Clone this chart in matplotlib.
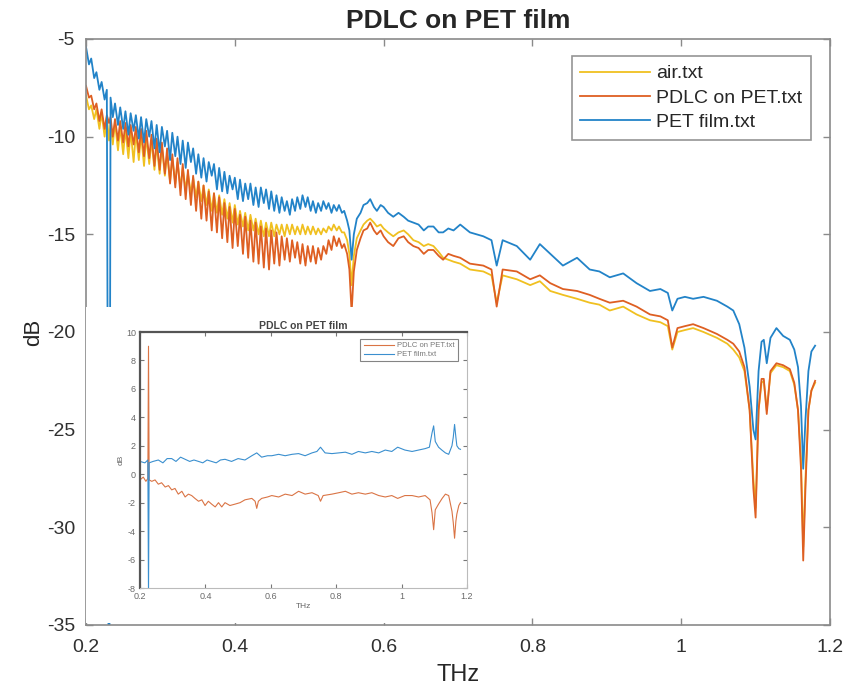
import matplotlib
matplotlib.use("Agg")
import matplotlib.pyplot as plt
from matplotlib.patches import Rectangle

plt.rcParams['font.family'] = ['Liberation Sans', 'DejaVu Sans']
plt.rcParams['axes.unicode_minus'] = False

# ---------------- main chart data ----------------
freq = [0.200, 0.204, 0.207, 0.211, 0.214, 0.218, 0.221, 0.225, 0.228, 0.231,
        0.233, 0.236, 0.239, 0.243, 0.246, 0.250, 0.253, 0.257, 0.260, 0.264,
        0.267, 0.271, 0.274, 0.278, 0.281, 0.285, 0.288, 0.292, 0.295, 0.299,
        0.302, 0.306, 0.309, 0.313, 0.316, 0.320, 0.323, 0.327, 0.330, 0.334,
        0.337, 0.341, 0.344, 0.348, 0.351, 0.355, 0.358, 0.362, 0.365, 0.369,
        0.372, 0.376, 0.379, 0.383, 0.386, 0.390, 0.393, 0.397, 0.400, 0.404,
        0.407, 0.411, 0.414, 0.418, 0.421, 0.425, 0.428, 0.432, 0.435, 0.439,
        0.442, 0.446, 0.449, 0.453, 0.456, 0.460, 0.463, 0.467, 0.470, 0.474,
        0.477, 0.481, 0.484, 0.488, 0.491, 0.495, 0.498, 0.502, 0.505, 0.509,
        0.512, 0.516, 0.519, 0.523, 0.526, 0.530, 0.533, 0.537, 0.540, 0.544,
        0.547, 0.551, 0.554, 0.557, 0.560, 0.564, 0.569, 0.573, 0.578, 0.582,
        0.587, 0.591, 0.596, 0.600, 0.606, 0.613, 0.620, 0.627, 0.633, 0.640,
        0.647, 0.654, 0.660, 0.667, 0.674, 0.680, 0.687, 0.694, 0.703, 0.716,
        0.734, 0.745, 0.752, 0.760, 0.779, 0.797, 0.810, 0.824, 0.841, 0.860,
        0.877, 0.890, 0.904, 0.922, 0.940, 0.958, 0.972, 0.982, 0.988, 0.995,
        1.005, 1.016, 1.030, 1.048, 1.062, 1.070, 1.078, 1.085, 1.092, 1.097,
        1.100, 1.104, 1.108, 1.111, 1.115, 1.120, 1.128, 1.137, 1.146, 1.152,
        1.157, 1.161, 1.164, 1.167, 1.171, 1.175, 1.180]

air_db = [-7.9, -8.6, -8.4, -9.1, -8.6, -9.6, -8.8, -10.0, -9.0, -10.2,
          -9.3, -10.4, -9.3, -10.7, -9.5, -10.9, -9.6, -11.1, -9.7, -11.3,
          -9.8, -11.2, -9.9, -11.5, -10.0, -11.4, -10.2, -11.7, -10.4, -11.9,
          -10.5, -12.0, -10.9, -12.3, -11.1, -12.4, -11.3, -12.6, -11.6, -12.7,
          -11.9, -12.9, -12.1, -13.1, -12.3, -13.3, -12.5, -13.5, -12.7, -13.8,
          -12.9, -13.9, -13.0, -14.0, -13.2, -14.2, -13.4, -14.4, -13.5, -14.5,
          -13.8, -14.6, -13.9, -14.8, -14.0, -14.8, -14.2, -15.0, -14.3, -15.1,
          -14.4, -15.1, -14.4, -15.1, -14.5, -15.0, -14.5, -15.1, -14.5, -15.0,
          -14.5, -15.0, -14.6, -15.0, -14.5, -15.0, -14.6, -15.0, -14.6, -15.0,
          -14.7, -15.0, -14.7, -14.9, -14.6, -14.8, -14.5, -14.8, -14.6, -14.9,
          -14.9, -15.3, -16.0, -17.6, -16.1, -15.2, -14.8, -14.5, -14.3, -14.2,
          -14.4, -14.6, -14.5, -14.7, -14.9, -15.1, -14.9, -14.8, -15.0, -15.3,
          -15.4, -15.6, -15.5, -15.6, -15.9, -16.2, -16.3, -16.4, -16.5, -16.8,
          -16.9, -17.1, -18.5, -17.1, -17.3, -17.6, -17.4, -17.9, -18.1, -18.3,
          -18.5, -18.6, -18.9, -18.7, -19.1, -19.4, -19.5, -19.7, -20.9, -20.0,
          -19.9, -19.8, -20.0, -20.3, -20.6, -20.9, -21.3, -22.0, -24.0, -27.5,
          -29.0, -24.0, -22.6, -22.5, -24.0, -22.1, -21.7, -21.8, -22.0, -22.7,
          -24.0, -26.5, -31.0, -27.5, -24.0, -23.0, -22.6]

pdlc_db = [-7.4, -8.0, -7.9, -8.6, -8.3, -9.2, -8.6, -9.6, -8.9, -9.3,
           -9.0, -10.0, -9.1, -10.2, -9.2, -10.3, -9.3, -10.5, -9.4, -10.4,
           -9.5, -10.8, -9.6, -11.0, -9.7, -11.1, -9.9, -11.5, -10.1, -11.7,
           -10.3, -11.9, -10.6, -12.4, -10.9, -12.6, -11.1, -13.0, -11.4, -13.2,
           -11.7, -13.5, -12.0, -13.8, -12.3, -14.2, -12.5, -14.3, -12.8, -14.8,
           -12.9, -14.9, -13.1, -15.2, -13.4, -15.4, -13.6, -15.7, -13.7, -15.6,
           -14.0, -16.0, -14.1, -16.2, -14.3, -16.4, -14.4, -16.5, -14.6, -16.7,
           -14.7, -16.8, -14.8, -16.5, -14.9, -16.6, -15.1, -16.3, -15.2, -16.4,
           -15.3, -16.2, -15.4, -16.5, -15.5, -16.6, -15.6, -16.4, -15.6, -16.5,
           -15.7, -16.3, -15.6, -16.0, -15.3, -15.8, -15.1, -15.6, -15.2, -15.7,
           -15.5, -16.0, -16.8, -19.0, -16.9, -15.8, -15.2, -14.8, -14.7, -14.4,
           -14.8, -15.0, -14.8, -15.1, -15.4, -15.6, -15.2, -15.1, -15.4, -15.6,
           -15.7, -16.0, -15.8, -15.8, -16.1, -16.3, -16.0, -16.1, -16.2, -16.5,
           -16.6, -16.8, -18.7, -16.8, -16.9, -17.3, -17.1, -17.5, -17.8, -17.9,
           -18.1, -18.3, -18.5, -18.4, -18.7, -19.1, -19.2, -19.4, -20.8, -19.8,
           -19.7, -19.6, -19.8, -20.1, -20.4, -20.6, -21.0, -21.8, -24.0, -28.0,
           -29.5, -24.0, -22.4, -22.4, -24.2, -22.0, -21.6, -21.7, -21.9, -22.6,
           -24.0, -27.0, -31.7, -28.0, -24.0, -23.0, -22.5]

pet_db = [-5.4, -6.3, -6.0, -7.0, -6.7, -7.6, -7.2, -8.1, -7.6, -45.0,
          -8.0, -9.0, -8.3, -9.4, -8.5, -9.6, -8.7, -9.9, -8.8, -9.7,
          -8.9, -10.1, -9.0, -10.3, -9.1, -10.0, -9.2, -10.6, -9.4, -10.8,
          -9.5, -10.5, -9.7, -11.2, -9.8, -11.0, -10.0, -11.4, -10.2, -11.6,
          -10.3, -11.3, -10.6, -11.9, -10.9, -12.1, -11.1, -12.3, -11.3, -12.0,
          -11.4, -12.7, -11.6, -12.8, -11.8, -12.9, -12.0, -12.7, -12.1, -13.2,
          -12.2, -13.3, -12.4, -13.2, -12.4, -13.5, -12.6, -13.6, -12.6, -13.4,
          -12.7, -13.7, -12.8, -13.8, -13.0, -13.9, -13.1, -13.8, -13.3, -14.0,
          -13.2, -13.8, -13.1, -13.7, -13.0, -13.6, -13.1, -13.8, -13.3, -13.9,
          -13.4, -13.8, -13.3, -13.7, -13.4, -13.9, -13.5, -13.8, -13.5, -13.9,
          -13.8, -14.3, -14.8, -16.3, -15.0, -14.2, -13.9, -13.5, -13.4, -13.2,
          -13.6, -13.8, -13.5, -13.6, -13.9, -14.1, -13.9, -14.1, -14.3, -14.4,
          -14.5, -14.8, -14.6, -14.6, -14.9, -14.9, -14.7, -14.8, -14.5, -14.9,
          -15.1, -15.3, -16.6, -15.3, -15.6, -16.3, -15.5, -16.0, -16.6, -16.2,
          -16.8, -16.9, -17.2, -17.0, -17.5, -17.9, -17.8, -18.0, -18.9, -18.3,
          -18.2, -18.3, -18.2, -18.4, -18.7, -18.9, -19.6, -20.8, -22.8, -25.0,
          -25.5, -22.0, -20.5, -20.4, -21.6, -20.3, -19.8, -20.2, -20.4, -20.9,
          -21.8, -23.8, -27.0, -24.5, -22.0, -21.0, -20.7]

labels = ['air.txt', 'PDLC on PET.txt', 'PET film.txt']
x_ticks = [0.2, 0.4, 0.6, 0.8, 1.0, 1.2]
x_ticklabels = ['0.2', '0.4', '0.6', '0.8', '1', '1.2']
y_ticks = [-35, -30, -25, -20, -15, -10, -5]

# ---------------- inset chart data ----------------
in_pet_f = [0.200, 0.215, 0.224, 0.226, 0.228, 0.240, 0.256, 0.270, 0.283, 0.297,
            0.310, 0.324, 0.338, 0.352, 0.365, 0.379, 0.392, 0.405, 0.419, 0.433,
            0.446, 0.460, 0.480, 0.500, 0.521, 0.542, 0.557, 0.572, 0.590, 0.603,
            0.624, 0.644, 0.665, 0.685, 0.705, 0.726, 0.741, 0.752, 0.766, 0.787,
            0.808, 0.828, 0.848, 0.868, 0.889, 0.909, 0.930, 0.950, 0.970, 0.988,
            1.010, 1.032, 1.052, 1.072, 1.085, 1.093, 1.098, 1.103, 1.113, 1.123,
            1.134, 1.144, 1.154, 1.158, 1.162, 1.166, 1.169, 1.175, 1.180]
in_pet_db = [0.9, 0.8, 1.0, -8.5, 0.8, 0.9, 1.0, 0.8, 1.1, 1.1,
             0.9, 1.2, 1.05, 0.9, 1.0, 0.9, 0.8, 1.0, 0.9, 0.8,
             1.0, 1.05, 0.9, 1.1, 1.0, 1.3, 1.5, 1.2, 1.3, 1.3,
             1.4, 1.3, 1.4, 1.45, 1.3, 1.5, 1.6, 1.9, 1.5, 1.45,
             1.5, 1.55, 1.4, 1.6, 1.5, 1.6, 1.5, 1.7, 1.6, 1.9,
             1.7, 1.6, 1.7, 1.8, 1.9, 2.9, 3.4, 2.3, 1.9, 1.7,
             1.5, 1.4, 2.0, 2.6, 3.5, 2.6, 2.0, 1.8, 1.75]

in_pdlc_f = [0.200, 0.210, 0.218, 0.224, 0.226, 0.228, 0.236, 0.246, 0.256, 0.266,
             0.277, 0.287, 0.297, 0.307, 0.317, 0.328, 0.338, 0.348, 0.358, 0.368,
             0.379, 0.389, 0.399, 0.409, 0.419, 0.430, 0.440, 0.450, 0.460, 0.475,
             0.491, 0.506, 0.521, 0.542, 0.552, 0.557, 0.562, 0.572, 0.590, 0.603,
             0.624, 0.644, 0.665, 0.685, 0.705, 0.726, 0.745, 0.752, 0.760, 0.787,
             0.808, 0.828, 0.848, 0.868, 0.889, 0.909, 0.930, 0.950, 0.970, 0.988,
             1.010, 1.032, 1.052, 1.072, 1.087, 1.093, 1.098, 1.103, 1.113, 1.124,
             1.134, 1.144, 1.154, 1.158, 1.162, 1.166, 1.169, 1.175, 1.180]
in_pdlc_db = [-0.4, -0.2, -0.5, -0.3, 9.0, -0.4, -0.5, -0.4, -0.7, -0.6,
              -0.9, -0.8, -1.1, -1.0, -1.4, -1.2, -1.6, -1.4, -1.5, -1.7,
              -1.9, -1.8, -2.2, -1.9, -2.1, -2.3, -2.0, -2.3, -2.0, -2.2,
              -2.1, -2.0, -1.8, -1.7, -1.9, -2.4, -1.9, -1.7, -1.6, -1.5,
              -1.6, -1.4, -1.5, -1.2, -1.4, -1.3, -1.5, -1.9, -1.5, -1.4,
              -1.3, -1.2, -1.4, -1.3, -1.4, -1.3, -1.5, -1.6, -1.5, -1.7,
              -1.5, -1.5, -1.6, -1.5, -1.8, -2.7, -3.9, -2.5, -2.1, -1.7,
              -1.4, -1.5, -2.6, -3.4, -4.5, -3.3, -2.8, -2.2, -2.0]
in_labels = ['PDLC on PET.txt', 'PET film.txt']
in_y_ticks = [-8, -6, -4, -2, 0, 2, 4, 6, 8, 10]

# ---------------- styling ----------------
W, H = 851, 698
c_air = '#F0C020'
c_pdlc = '#DE5F22'
c_pet = '#2283C8'
spine_c = '#8a8a8a'

fig = plt.figure(figsize=(W / 100, H / 100), dpi=100)
ax = fig.add_axes([86 / W, (H - 625) / H, (830 - 86) / W, (625 - 39) / H])

ax.plot(freq, air_db, color=c_air, lw=1.3, label=labels[0])
ax.plot(freq, pdlc_db, color=c_pdlc, lw=1.3, label=labels[1])
ax.plot(freq, pet_db, color=c_pet, lw=1.3, label=labels[2])

ax.set_xlim(0.2, 1.2)
ax.set_ylim(-35, -5)
ax.set_xticks(x_ticks)
ax.set_xticklabels(x_ticklabels)
ax.set_yticks(y_ticks)
ax.tick_params(direction='in', length=5, width=1, color=spine_c,
               labelsize=14, labelcolor='#303030', top=True, right=True,
               labeltop=False, labelright=False)
ax.tick_params(axis='x', pad=10)
ax.tick_params(axis='y', pad=8)
for s in ax.spines.values():
    s.set_color(spine_c)
    s.set_linewidth(1.2)
ax.set_xlabel('THz', fontsize=17, color='#262626', labelpad=6)
ax.set_ylabel('dB', fontsize=16, color='#262626', labelpad=2)
ax.set_title('PDLC on PET film', fontsize=19, fontweight='bold',
             color='#262626', pad=8)

leg = ax.legend(loc='upper right', bbox_to_anchor=(811 / W, 1 - 56 / H),
                bbox_transform=fig.transFigure, borderaxespad=0,
                fontsize=14, frameon=True, fancybox=False,
                handlelength=3.6, handletextpad=0.3, labelspacing=0.35,
                borderpad=0.45)
leg.get_frame().set_edgecolor('#7a7a7a')
leg.get_frame().set_linewidth(1.2)
for t in leg.get_texts():
    t.set_color('#262626')

# ---------------- inset (pasted figure) ----------------
fig.patches.append(Rectangle((86 / W, (H - 623) / H), (480 - 86) / W, (623 - 307) / H,
                             transform=fig.transFigure, facecolor='white',
                             edgecolor='none', zorder=5))

ins = fig.add_axes([140 / W, (H - 588) / H, (467 - 140) / W, (588 - 332) / H], zorder=6)
ins.plot(in_pdlc_f, in_pdlc_db, color='#DA7445', lw=0.8, label=in_labels[0])
ins.plot(in_pet_f, in_pet_db, color='#3A8FCF', lw=0.8, label=in_labels[1])
ins.set_xlim(0.2, 1.2)
ins.set_ylim(-8, 10)
ins.set_xticks(x_ticks)
ins.set_xticklabels(x_ticklabels)
ins.set_yticks(in_y_ticks)
ins.tick_params(direction='in', length=3, width=0.8, color='#777777',
                labelsize=6.5, labelcolor='#6a6a6a', top=True, right=True, pad=3)
for name, s in ins.spines.items():
    if name in ('top', 'left'):
        s.set_color('#555555')
        s.set_linewidth(1.6)
    else:
        s.set_color('#bbbbbb')
        s.set_linewidth(0.8)
ins.set_title('PDLC on PET film', fontsize=7.5, fontweight='bold',
              color='#444444', pad=2)
ins.set_xlabel('THz', fontsize=6, color='#666666', labelpad=1)
ins.set_ylabel('dB', fontsize=6, color='#666666', labelpad=1)
ileg = ins.legend(loc='upper right', bbox_to_anchor=(0.972, 0.973),
                  borderaxespad=0, fontsize=5.5, frameon=True, fancybox=False,
                  handlelength=4, handletextpad=0.4, labelspacing=0.2,
                  borderpad=0.4)
ileg.get_frame().set_edgecolor('#666666')
ileg.get_frame().set_linewidth(0.8)
for t in ileg.get_texts():
    t.set_color('#777777')

fig.savefig('out.png', dpi=100, facecolor='white')
